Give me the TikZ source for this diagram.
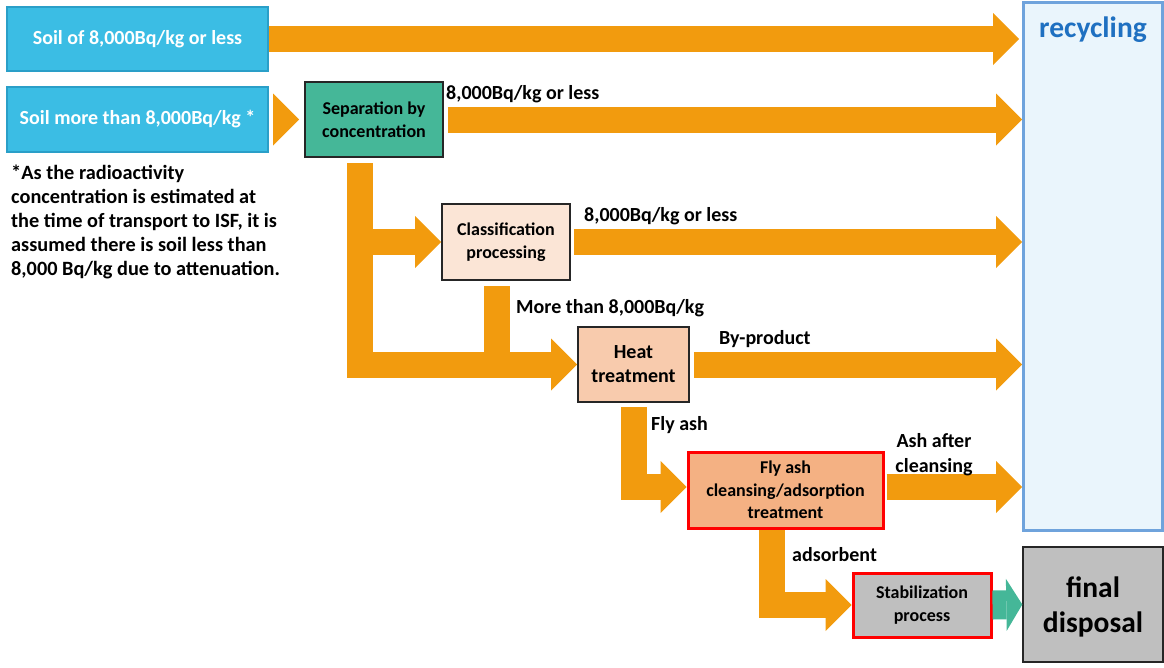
\documentclass[tikz,border=0pt]{standalone}
\usepackage{fontspec}
\setmainfont{Carlito}
\usetikzlibrary{arrows.meta,calc}
\definecolor{flowor}{HTML}{F29B0E}
\definecolor{flowteal}{HTML}{45B798}
\definecolor{soilfill}{HTML}{3BBDE4}
\definecolor{soilline}{HTML}{2A9FC8}
\definecolor{sepfill}{HTML}{45B798}
\definecolor{clsfill}{HTML}{FBE5D6}
\definecolor{heatfill}{HTML}{F8CBAD}
\definecolor{flyfill}{HTML}{F4B183}
\definecolor{grayfill}{HTML}{BFBFBF}
\definecolor{recfill}{HTML}{EAF5FC}
\definecolor{recline}{HTML}{6FA3DC}
\definecolor{rectext}{HTML}{1F70C1}
\definecolor{darkline}{HTML}{262626}
\tikzset{
  box/.style={draw=darkline, line width=1.6pt, inner sep=0pt, align=center,
    font=\fontsize{18}{22.5}\selectfont\bfseries},
  soilbox/.style={box, draw=soilline, fill=soilfill, text=white, line width=1.4pt,
    minimum width=261pt, font=\fontsize{20}{24}\selectfont\bfseries},
  redbox/.style={box, draw=red, line width=3pt},
  lbl/.style={font=\fontsize{20}{24}\selectfont\bfseries, inner sep=0pt},
  flow/.style={draw=flowor, line width=26pt,
    -{Triangle[width=52pt,length=26pt,line width=0pt]}},
  flowbar/.style={draw=flowor, line width=26pt},
}
\begin{document}
\begin{tikzpicture}[x=1pt,y=-1pt]
\useasboundingbox (0,0) rectangle (1164,667);
% boxes
\node[soilbox, minimum height=64pt] (s1) at (137.5,39) {Soil of 8,000Bq/kg or less};
\node[soilbox, minimum height=65pt] (s2) at (137.5,119.5) {Soil more than 8,000Bq/kg *};
\node[box, fill=sepfill, minimum width=138pt, minimum height=75pt] (sep) at (374,119.5) {Separation by\\concentration};
\node[box, fill=clsfill, minimum width=128pt, minimum height=76pt] (cls) at (506,242) {Classification\\processing};
\node[box, fill=heatfill, minimum width=111pt, minimum height=75pt, font=\fontsize{20}{24}\selectfont\bfseries] (heat) at (633.5,364.5) {Heat\\treatment};
\node[redbox, fill=flyfill, minimum width=195pt, minimum height=76pt] (fly) at (785.5,490) {Fly ash\\cleansing/adsorption\\treatment};
\node[redbox, fill=grayfill, minimum width=138pt, minimum height=64pt] (stab) at (922,605) {Stabilization\\process};
\node[draw=darkline, fill=grayfill, minimum width=140pt, minimum height=115pt, line width=1.4pt, inner sep=0pt] (final) at (1093,604.5) {};
\node[align=center, inner sep=0pt, font=\fontsize{29.5}{35}\selectfont\bfseries] (finalt) at (1093,607) {final\\disposal};
\node[draw=recline, fill=recfill, line width=3pt, minimum width=139pt, minimum height=528pt, inner sep=0pt] (rec) at (1093,266) {};
\node[text=rectext, font=\fontsize{29.5}{34}\selectfont\bfseries, inner sep=0pt] (rect) at (1093,29.5) {recycling};
% note
\node[lbl, anchor=north west, align=left, font=\fontsize{20.3}{24}\selectfont\bfseries] (note) at (11,165)
 {*As the radioactivity\\concentration is estimated at\\the time of transport to ISF, it is\\assumed there is soil less than\\8,000 Bq/kg due to attenuation.};
% coordinates
\coordinate (ttop) at (359.5,163);
\coordinate (tcorner) at (359.5,364.5);
\coordinate (cbot) at (497,286);
\coordinate (hbot) at (634,407);
\coordinate (hcorner) at (634,487);
\coordinate (fbot) at (771.5,530);
\coordinate (fcorner) at (771.5,605);
% flows
\draw[flow, shorten >=3pt] (s1.east) -- (s1.east -| rec.west);
\draw[flow, shorten <=5pt, shorten >=5pt] (s2.east) -- (sep.west |- s2.east);
\draw[flow, shorten <=4pt] (sep.east) -- (sep.east -| rec.west);
\draw[flowbar] (cbot) -- (cbot |- tcorner);
\draw[flow] (ttop) -- (tcorner) -- (heat.west);
\draw[flow] (ttop |- cls.west) -- (cls.west);
\draw[flow, shorten <=3pt] (cls.east) -- (cls.east -| rec.west);
\draw[flow, shorten <=4pt] (heat.east) -- (heat.east -| rec.west);
\draw[flow] (hbot) -- (hcorner) -- (hcorner -| fly.west);
\draw[flow, shorten <=2pt] (hcorner -| fly.east) -- (hcorner -| rec.west);
\draw[flow] (fbot) -- (fcorner) -- (stab.west);
\draw[draw=flowteal, line width=29pt, -{Triangle[width=52pt,length=16pt,line width=0pt]}] (stab.east) -- (final.west);
% labels
\node[lbl, anchor=west] (l1) at (446,94) {8,000Bq/kg or less};
\node[lbl, anchor=west] (l2) at (584,216) {8,000Bq/kg or less};
\node[lbl, anchor=west] (l3) at (516,308) {More than 8,000Bq/kg};
\node[lbl, anchor=west] (l4) at (719,339) {By-product};
\node[lbl, anchor=west] (l5) at (651,425) {Fly ash};
\node[lbl, align=center, font=\fontsize{20}{25}\selectfont\bfseries] (l6) at (934,454.5) {Ash after\\cleansing};
\node[lbl, anchor=west] (l7) at (792,555) {adsorbent};
\end{tikzpicture}
\end{document}
